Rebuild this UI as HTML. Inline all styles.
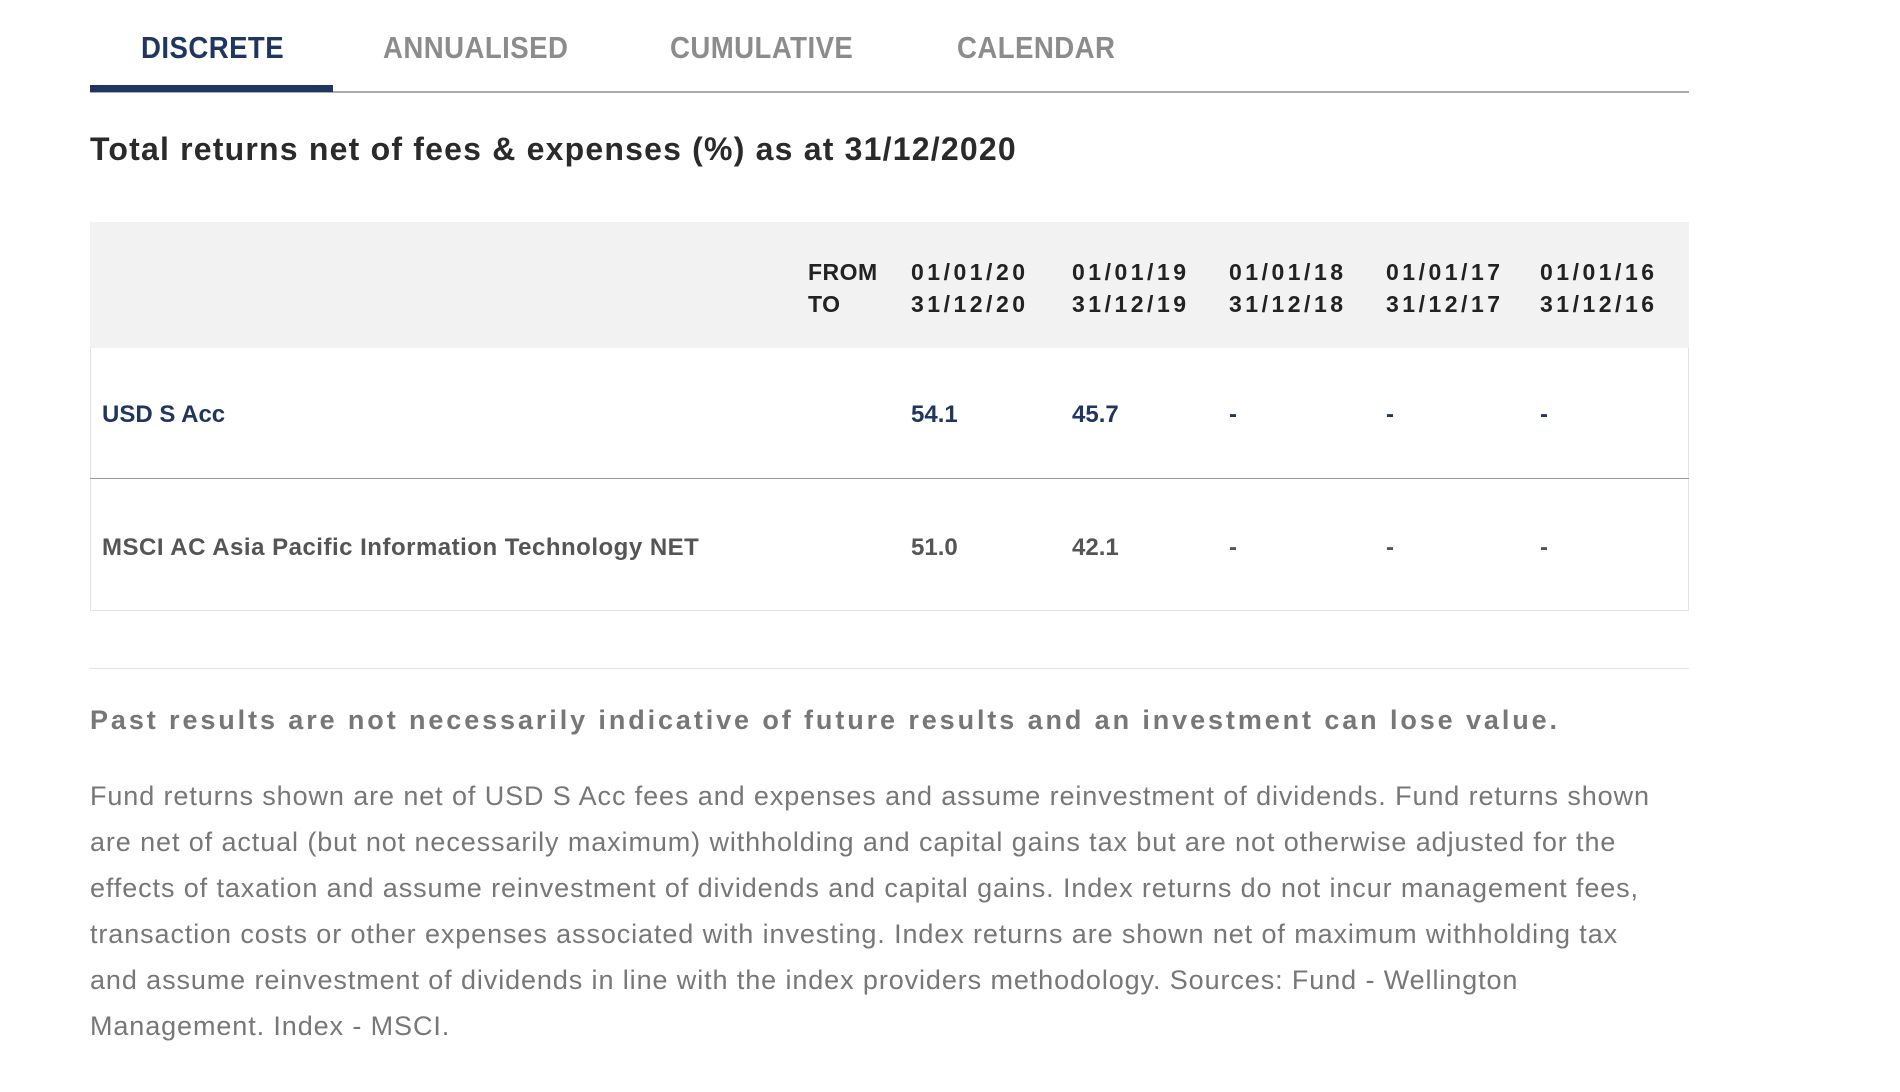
<!DOCTYPE html>
<html><head><meta charset="utf-8"><style>
body{margin:0;width:1900px;height:1092px;background:#fff;font-family:"Liberation Sans",sans-serif;position:relative;overflow:hidden}
.abs{position:absolute;white-space:nowrap}
.tab{position:absolute;top:30px;font-weight:bold;font-size:31px;color:#8c8c8c;letter-spacing:0.5px;transform:scaleX(0.89);transform-origin:left top}
.h{position:absolute;font-weight:900;font-size:23px;color:#222;line-height:32px;letter-spacing:0.5px}
.d{letter-spacing:3.5px}
.v{position:absolute;font-weight:bold;font-size:24px}
.p{position:absolute;left:90px;font-size:27px;color:#777;letter-spacing:0.9px;white-space:nowrap}
</style></head><body>
<div class="tab" style="left:141px;color:#1e3660">DISCRETE</div>
<div class="tab" style="left:383px">ANNUALISED</div>
<div class="tab" style="left:670px">CUMULATIVE</div>
<div class="tab" style="left:957px">CALENDAR</div>
<div class="abs" style="left:90px;top:91px;width:1599px;height:2px;background:#aaa"></div>
<div class="abs" style="left:90px;top:85px;width:243px;height:7px;background:#1e3660"></div>
<div class="abs" style="left:90px;top:131px;font-size:32px;font-weight:bold;color:#2a2a2a;letter-spacing:1.2px">Total returns net of fees &amp; expenses (%) as at 31/12/2020</div>
<div class="abs" style="left:90px;top:222px;width:1599px;height:126px;background:#f2f2f2"></div>
<div class="abs" style="left:90px;top:348px;width:1597px;height:262px;border:1px solid #e2e2e2;border-top:none"></div>
<div class="abs" style="left:90px;top:478px;width:1599px;height:1px;background:#999"></div>
<div class="h" style="left:808px;top:256px">FROM<br>TO</div>
<div class="h d" style="left:911px;top:256px">01/01/20<br>31/12/20</div>
<div class="h d" style="left:1072px;top:256px">01/01/19<br>31/12/19</div>
<div class="h d" style="left:1229px;top:256px">01/01/18<br>31/12/18</div>
<div class="h d" style="left:1386px;top:256px">01/01/17<br>31/12/17</div>
<div class="h d" style="left:1540px;top:256px">01/01/16<br>31/12/16</div>
<div class="v" style="left:102px;top:401px;color:#1e3660">USD S Acc</div>
<div class="v" style="left:911px;top:401px;color:#1e3660">54.1</div>
<div class="v" style="left:1072px;top:401px;color:#1e3660">45.7</div>
<div class="v" style="left:1229px;top:401px;color:#1e3660">-</div>
<div class="v" style="left:1386px;top:401px;color:#1e3660">-</div>
<div class="v" style="left:1540px;top:401px;color:#1e3660">-</div>
<div class="v" style="left:102px;top:534px;color:#555;letter-spacing:0.5px">MSCI AC Asia Pacific Information Technology NET</div>
<div class="v" style="left:911px;top:534px;color:#555">51.0</div>
<div class="v" style="left:1072px;top:534px;color:#555">42.1</div>
<div class="v" style="left:1229px;top:534px;color:#555">-</div>
<div class="v" style="left:1386px;top:534px;color:#555">-</div>
<div class="v" style="left:1540px;top:534px;color:#555">-</div>
<div class="abs" style="left:90px;top:668px;width:1599px;height:1px;background:#e2e2e2"></div>
<div class="abs" style="left:90px;top:705px;font-size:27px;font-weight:900;color:#777;letter-spacing:2.9px">Past results are not necessarily indicative of future results and an investment can lose value.</div>
<div class="p" style="top:781px">Fund returns shown are net of USD S Acc fees and expenses and assume reinvestment of dividends. Fund returns shown</div>
<div class="p" style="top:827px">are net of actual (but not necessarily maximum) withholding and capital gains tax but are not otherwise adjusted for the</div>
<div class="p" style="top:873px">effects of taxation and assume reinvestment of dividends and capital gains. Index returns do not incur management fees,</div>
<div class="p" style="top:919px">transaction costs or other expenses associated with investing. Index returns are shown net of maximum withholding tax</div>
<div class="p" style="top:965px">and assume reinvestment of dividends in line with the index providers methodology. Sources: Fund - Wellington</div>
<div class="p" style="top:1011px">Management. Index - MSCI.</div>
</body></html>
